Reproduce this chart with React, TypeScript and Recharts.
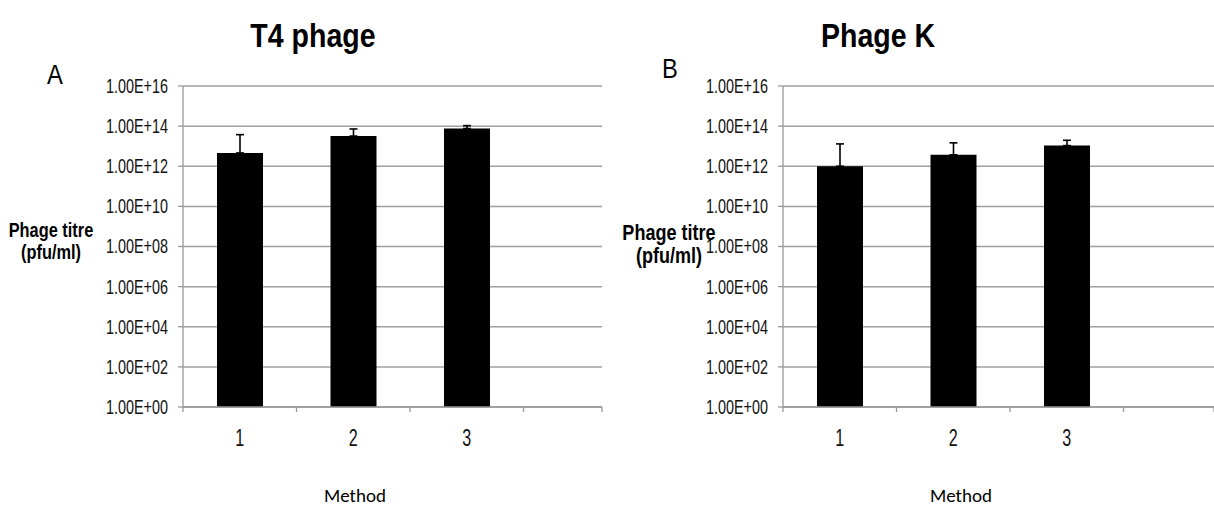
import React from 'react';
import { BarChart, Bar, XAxis, YAxis, CartesianGrid, ErrorBar } from 'recharts';

const methods = ['1', '2', '3'];
const titreTicks = [1, 1e2, 1e4, 1e6, 1e8, 1e10, 1e12, 1e14, 1e16];

// T4 phage: mean titre (pfu/ml) and upper SD per method
const t4Titre = [4.6e12, 3.2e13, 7.6e13];
const t4Sd = [3.3e13, 4.0e13, 3.0e13];

// Phage K
const kTitre = [1.0e12, 3.7e12, 1.07e13];
const kSd = [1.2e13, 1.1e13, 9.0e12];

const FONT = "'Liberation Sans', Arial, sans-serif";
const GRID = '#a0a0a0';
const AXIS = '#999';
const BAND = 113.5;

const sci = (v: number) => {
  const [m, e] = v.toExponential(2).split('e');
  const sign = e[0] === '-' ? '-' : '+';
  const exp = e.replace(/^[+-]/, '').padStart(2, '0');
  return `${m}E${sign}${exp}`;
};

const buildRows = (titre: number[], sd: number[]) =>
  methods.map((m, i) => ({ method: m, titre: titre[i], sd: [0, sd[i]] }));

// Arial squeezed horizontally so it reads like Arial Narrow
function Narrow({ x, y, size, bold, scale = 0.8, anchor = 'middle', baseline, fill = '#000', children }: any) {
  return (
    <text
      transform={`translate(${x} ${y}) scale(${scale} 1)`}
      textAnchor={anchor}
      dominantBaseline={baseline}
      fontFamily={FONT}
      fontWeight={bold ? 700 : 400}
      fontSize={size}
      fill={fill}
    >
      {children}
    </text>
  );
}

function TitreTick({ x, y, payload }: any) {
  return (
    <Narrow x={x} y={y} size={20} scale={0.72} anchor="end" baseline="central" fill="#111">
      {sci(payload.value)}
    </Narrow>
  );
}

function makeMethodTick(padRight: number) {
  return function MethodTick({ x, y, payload, index }: any) {
    const half = BAND / 2;
    const mark = (px: number) => (
      <line x1={px} x2={px} y1={y} y2={y + 5} stroke={AXIS} strokeWidth={1.3} />
    );
    return (
      <g>
        {index === 0 && mark(x - half)}
        {mark(x + half)}
        {index === methods.length - 1 && mark(x + half + padRight)}
        <Narrow x={x} y={y + 39} size={23} scale={0.7} fill="#111">
          {payload.value}
        </Narrow>
      </g>
    );
  };
}

interface PanelProps {
  left: number;
  width: number;
  marginRight: number;
  titre: number[];
  sd: number[];
}

function TitrePanel({ left, width, marginRight, titre, sd }: PanelProps) {
  const margin = { top: 86, right: marginRight, bottom: 40, left: 83 };
  const plotW = width - margin.left - margin.right - 100;
  const padRight = plotW - BAND * methods.length;
  const rows = buildRows(titre, sd);
  return (
    <div style={{ position: 'absolute', left, top: 0 }}>
      <BarChart width={width} height={507} data={rows} margin={margin}>
        <CartesianGrid vertical={false} stroke={GRID} strokeWidth={1.5} />
        <XAxis
          dataKey="method"
          padding={{ left: 0, right: padRight }}
          height={60}
          axisLine={{ stroke: AXIS, strokeWidth: 1.3 }}
          tickLine={false}
          tickSize={0}
          tickMargin={0}
          interval={0}
          tick={makeMethodTick(padRight)}
        />
        <YAxis
          type="number"
          scale="log"
          domain={[1, 1e16]}
          ticks={titreTicks}
          interval={0}
          allowDataOverflow
          width={100}
          axisLine={{ stroke: AXIS, strokeWidth: 1.3 }}
          tickLine={{ stroke: AXIS, strokeWidth: 1.3 }}
          tickSize={5}
          tickMargin={10}
          tick={<TitreTick />}
        />
        <Bar dataKey="titre" fill="#000" barSize={46} isAnimationActive={false}>
          <ErrorBar dataKey="sd" direction="y" width={4} stroke="#000" strokeWidth={1.6} />
        </Bar>
      </BarChart>
    </div>
  );
}

export default function App() {
  return (
    <div style={{ position: 'absolute', left: 0, top: 0, width: 1214, height: 507, background: '#fff', overflow: 'hidden' }}>
      <TitrePanel left={0} width={610} marginRight={8} titre={t4Titre} sd={t4Sd} />
      <TitrePanel left={600} width={614} marginRight={0} titre={kTitre} sd={kSd} />
      <svg width={1214} height={507} style={{ position: 'absolute', left: 0, top: 0, pointerEvents: 'none' }}>
        <Narrow x={313} y={47} size={34} bold scale={0.84}>T4 phage</Narrow>
        <Narrow x={878} y={47} size={34} bold scale={0.84}>Phage K</Narrow>
        <Narrow x={55} y={84} size={27} scale={0.88}>A</Narrow>
        <Narrow x={670} y={78} size={27} scale={0.88}>B</Narrow>

        <Narrow x={51} y={237} size={19.5} bold scale={0.84}>Phage titre</Narrow>
        <Narrow x={51} y={259} size={19.5} bold scale={0.84}>(pfu/ml)</Narrow>
        <Narrow x={669} y={240} size={21.5} bold scale={0.84}>Phage titre</Narrow>
        <Narrow x={669} y={263} size={21.5} bold scale={0.84}>(pfu/ml)</Narrow>

        <text x={355} y={502} textAnchor="middle" fontFamily="Carlito, Lato, sans-serif" fontSize={19} fill="#000">Method</text>
        <text x={961} y={502} textAnchor="middle" fontFamily="Carlito, Lato, sans-serif" fontSize={19} fill="#000">Method</text>
      </svg>
    </div>
  );
}
